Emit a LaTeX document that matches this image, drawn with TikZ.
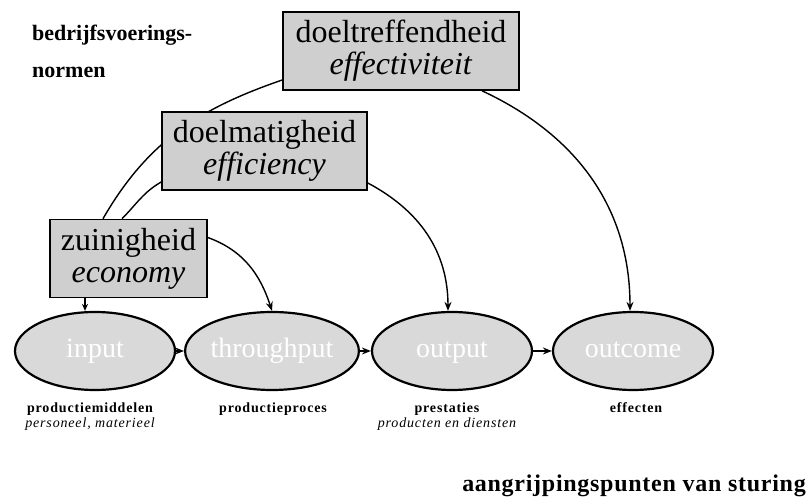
\documentclass[tikz,border=0pt]{standalone}
\usepackage{fontspec}
\setmainfont{Liberation Serif}
\usetikzlibrary{arrows.meta,backgrounds,shapes.geometric}
\begin{document}
\begin{tikzpicture}[x=1pt,y=1pt,
  normbox/.style={draw=black, line width=1.6pt, fill=gray!38, minimum width=#1, minimum height=78pt, inner sep=0pt, align=center, font=\fontsize{32}{32}\selectfont},
  phase/.style={ellipse, draw=black, line width=2.2pt, fill=gray!30, minimum width=160pt, minimum height=78pt, inner sep=0pt, text height=19pt, text depth=6pt, font=\fontsize{28}{30}\selectfont, text=white},
  conn/.style={line width=1.4pt},
  arr/.style={conn, -{Stealth[length=9pt,width=7pt]}},
  lab/.style={font=\bfseries\fontsize{14}{16}\selectfont\addfontfeature{LetterSpace=6}, inner sep=0pt, anchor=base},
  labit/.style={font=\itshape\fontsize{14}{16}\selectfont\addfontfeature{LetterSpace=6}, inner sep=0pt, anchor=base}
]
\useasboundingbox (0,0) rectangle (807,500);

\node[normbox=236pt] (eff) at (401,449) {doeltreffendheid\\\textit{effectiviteit}};
\node[normbox=205pt] (effi) at (264.5,349) {doelmatigheid\\\textit{efficiency}};
\node[normbox=157pt] (eco) at (128.5,241.5) {zuinigheid\\\textit{economy}};

\node[phase] (input) at (95,149) {input};
\node[phase] (throughput) at (272,149) {throughput};
\node[phase] (output) at (452,149) {output};
\node[phase] (outcome) at (633,149) {outcome};

\node[anchor=north west, inner sep=0pt, align=left, font=\bfseries\fontsize{22}{37}\selectfont] (title) at (32,475) {bedrijfsvoerings-\\normen};
\node[anchor=base east, inner sep=0pt, font=\bfseries\fontsize{24}{26}\selectfont\addfontfeature{LetterSpace=3}] (sturing) at (806,8) {aangrijpingspunten van sturing};

\node[lab] (l1) at (90,87) {productiemiddelen};
\node[labit] (l1b) at (90,72) {personeel, materieel};
\node[lab] (l2) at (273,87) {productieproces};
\node[lab] (l3) at (447,87) {prestaties};
\node[labit] (l3b) at (447,72) {producten en diensten};
\node[lab] (l4) at (636,87) {effecten};

\begin{pgfonlayer}{background}
\draw[arr] ([xshift=81pt]eff.south) to[out=-25,in=90] ([xshift=-3pt]outcome.north);
\draw[conn] ([yshift=-29pt]eff.west) to[out=199,in=60] ([xshift=-25.5pt]eco.north);
\draw[conn] ([yshift=-31pt]effi.west) to[out=210,in=45] ([xshift=-6.5pt]eco.north);
\draw[arr] ([yshift=-32pt]effi.east) to[out=-28,in=90] ([xshift=-4pt]output.north);
\draw[arr] ([yshift=21pt]eco.east) to[out=-20,in=108] (throughput.north);
\draw[line width=2.2pt, -{Stealth[length=7pt,width=6pt]}] ([xshift=-43.5pt]eco.south) -- ([xshift=-10pt]input.north);
\end{pgfonlayer}
\draw[arr] (input.east) -- (throughput.west);
\draw[arr] (throughput.east) -- (output.west);
\draw[arr] (output.east) -- (outcome.west);
\end{tikzpicture}
\end{document}
